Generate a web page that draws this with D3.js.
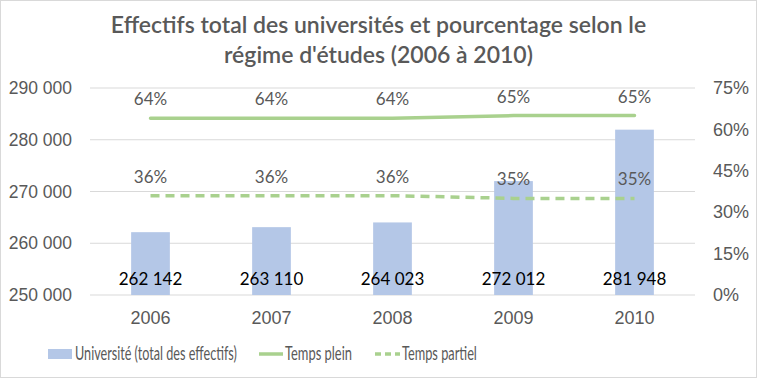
<!DOCTYPE html>
<html><head><meta charset="utf-8">
<script src="https://cdn.jsdelivr.net/npm/d3@7"></script>
<style>
html,body{margin:0;padding:0;background:#fff;}
svg{display:block;font-family:Lato,"Open Sans",sans-serif;}
</style></head>
<body><svg id="c" width="757" height="378"></svg>
<script>
const years = ["2006","2007","2008","2009","2010"];
const effectifs = [262142, 263110, 264023, 272012, 281948];
const tempsPlein = [0.64, 0.64, 0.64, 0.65, 0.65];
const tempsPartiel = [0.36, 0.36, 0.36, 0.35, 0.35];
const leftTicks = [250000, 260000, 270000, 280000, 290000];
const rightTicks = [0, 0.15, 0.30, 0.45, 0.60, 0.75];
const titleLines = ["Effectifs total des universités et pourcentage selon le", "régime d'études (2006 à 2010)"];
const legendLabels = ["Université (total des effectifs)", "Temps plein", "Temps partiel"];

const W = 757, H = 378;
const m = {left: 90, right: 62, top: 88, bottom: 83};
const svg = d3.select("#c");
svg.append("rect").attr("x",0.5).attr("y",0.5).attr("width",W-1).attr("height",H-1)
  .attr("fill","#fff").attr("stroke","#d9d9d9");

const x = d3.scaleBand().domain(years).range([m.left, W-m.right]).paddingInner(0.68).paddingOuter(0.34);
const yL = d3.scaleLinear().domain([250000, 290000]).range([H-m.bottom, m.top]);
const yR = d3.scaleLinear().domain([0, 0.75]).range([H-m.bottom, m.top]);
const grey = "#595959";
const fmt = d => d3.format(",")(d).replace(/,/g, " ");

// title
svg.append("g").selectAll("text").data(titleLines).join("text")
  .attr("x", W/2).attr("y", (d,i) => 33 + i*30).attr("text-anchor","middle")
  .attr("font-size", 23).attr("fill", grey).attr("font-weight", 600).text(d => d);

// gridlines
svg.append("g").selectAll("line").data(leftTicks).join("line")
  .attr("x1", m.left).attr("x2", W-m.right).attr("y1", d => yL(d)).attr("y2", d => yL(d))
  .attr("stroke", "#d9d9d9").attr("stroke-width", 1);

// left axis
const gl = svg.append("g").attr("transform", `translate(${m.left},0)`)
  .call(d3.axisLeft(yL).tickValues(leftTicks).tickFormat(fmt).tickSize(0).tickPadding(18));
gl.select(".domain").remove();
gl.selectAll("text").attr("font-size", 17.5).attr("fill", grey).attr("font-family","inherit");

// right axis
const gr = svg.append("g").attr("transform", `translate(${W-m.right},0)`)
  .call(d3.axisRight(yR).tickValues(rightTicks).tickFormat(d3.format(".0%")).tickSize(0).tickPadding(18));
gr.select(".domain").remove();
gr.selectAll("text").attr("font-size", 18).attr("fill", grey).attr("font-family","inherit");

// bottom axis
const gb = svg.append("g").attr("transform", `translate(0,${H-m.bottom})`)
  .call(d3.axisBottom(x).tickSize(0).tickPadding(16));
gb.select(".domain").remove();
gb.selectAll("text").attr("font-size", 18).attr("fill", grey).attr("font-family","inherit");

// bars
svg.append("g").selectAll("rect").data(years).join("rect")
  .attr("x", d => x(d)).attr("width", x.bandwidth())
  .attr("y", (d,i) => yL(effectifs[i])).attr("height", (d,i) => yL(250000) - yL(effectifs[i]))
  .attr("fill", "#b4c7e7");

const cx = d => x(d) + x.bandwidth()/2;
const green = "#a9d18e";
const line = arr => d3.line().x(d => cx(d)).y((d,i) => yR(arr[i]));

svg.append("path").datum(years).attr("d", line(tempsPlein)).attr("fill","none")
  .attr("stroke", green).attr("stroke-width", 3.5).attr("stroke-linecap","round");
svg.append("path").datum(years).attr("d", line(tempsPartiel)).attr("fill","none")
  .attr("stroke", green).attr("stroke-width", 3.5).attr("stroke-dasharray","9 6");

// labels
svg.append("g").selectAll("text").data(years).join("text")
  .attr("x", cx).attr("y", (d,i) => yR(tempsPlein[i]) - 13).attr("text-anchor","middle")
  .attr("font-size", 17).attr("fill", grey).text((d,i) => d3.format(".0%")(tempsPlein[i]));
svg.append("g").selectAll("text").data(years).join("text")
  .attr("x", cx).attr("y", (d,i) => yR(tempsPartiel[i]) - 13).attr("text-anchor","middle")
  .attr("font-size", 17).attr("fill", grey).text((d,i) => d3.format(".0%")(tempsPartiel[i]));
svg.append("g").selectAll("text").data(years).join("text")
  .attr("x", cx).attr("y", yL(250000) - 10).attr("text-anchor","middle")
  .attr("font-size", 17).attr("fill", "#000").text((d,i) => fmt(effectifs[i]));

// legend
const lg = svg.append("g");
const ly = 354;
const lt = (x0, w, t) => {
  const el = lg.append("text").attr("font-size", 18.5).attr("fill", grey).text(t);
  const nat = el.node().getComputedTextLength();
  el.attr("transform", `translate(${x0},${ly+6}) scale(${w/nat},1)`);
};
lg.append("rect").attr("x", 48).attr("y", ly-5).attr("width", 24).attr("height", 10).attr("fill", "#b4c7e7");
lt(75, 162, legendLabels[0]);
lg.append("line").attr("x1", 259).attr("x2", 283).attr("y1", ly).attr("y2", ly).attr("stroke", green).attr("stroke-width", 3.5);
lt(285, 67, legendLabels[1]);
lg.append("line").attr("x1", 375).attr("x2", 400).attr("y1", ly).attr("y2", ly).attr("stroke", green).attr("stroke-width", 3.5).attr("stroke-dasharray","6 4");
lt(402, 75, legendLabels[2]);
</script></body></html>
